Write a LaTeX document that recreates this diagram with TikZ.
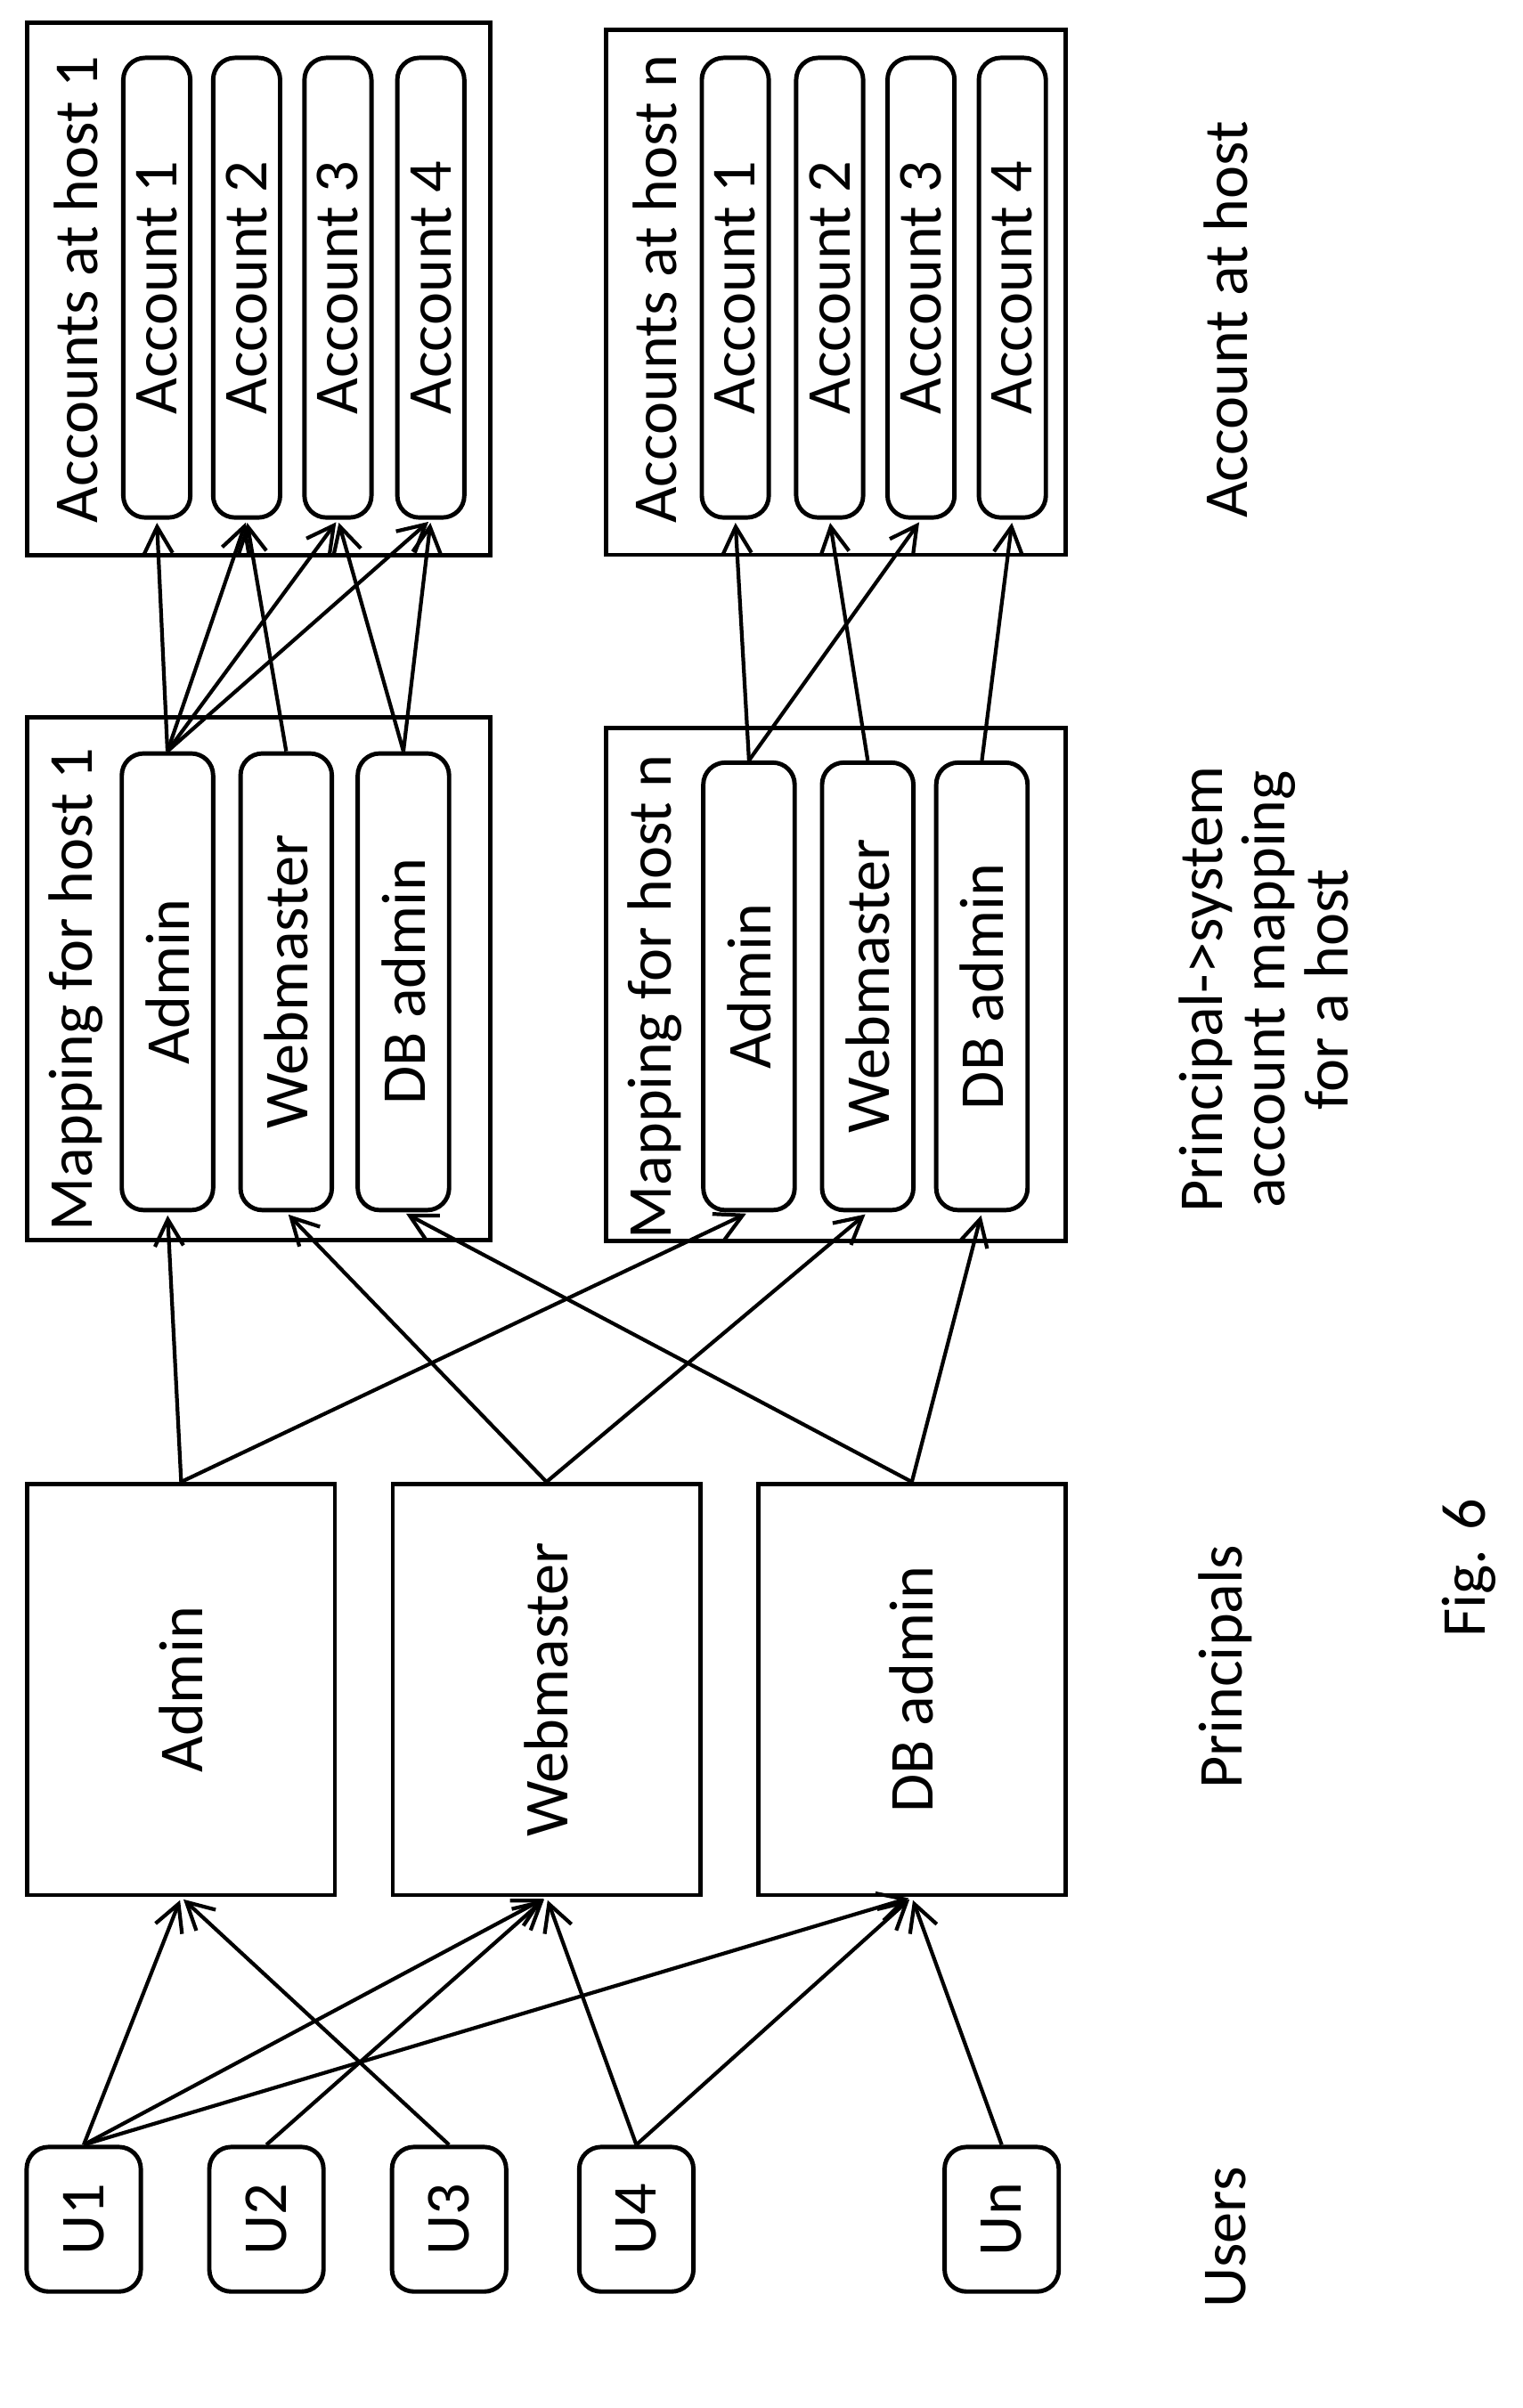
\documentclass[tikz,border=0pt]{standalone}
\usepackage{fontspec}
\setmainfont{Carlito}
\usetikzlibrary{arrows.meta}

\newcommand{\px}{0.0171cm}
\newcommand{\vt}[1]{\rotatebox{90}{#1}}

\tikzset{
	box/.style={draw, line width=1.4pt, fill=white, inner sep=0pt},
	rbox/.style={box, rounded corners=7pt},
	lbl/.style={font=\fontsize{20}{24}\selectfont},
	link/.style={line width=1.2pt, -{Straight Barb[length=3mm, width=3.2mm]}, shorten >=1pt}
}

\begin{document}
\begin{tikzpicture}[x=0.0171cm, y=-0.0171cm, lbl]
	\useasboundingbox (0,0) rectangle (1000,1582);

	% users
	\node[rbox, minimum width=75*\px, minimum height=95*\px] (u1) at (55,1458) {\vt{U1}};
	\node[rbox, minimum width=75*\px, minimum height=95*\px] (u2) at (175,1458) {\vt{U2}};
	\node[rbox, minimum width=75*\px, minimum height=95*\px] (u3) at (295,1458) {\vt{U3}};
	\node[rbox, minimum width=75*\px, minimum height=95*\px] (u4) at (418,1458) {\vt{U4}};
	\node[rbox, minimum width=75*\px, minimum height=95*\px] (un) at (658,1458) {\vt{Un}};

	% principals
	\node[box, minimum width=202*\px, minimum height=270*\px] (padmin) at (119,1110) {\vt{Admin}};
	\node[box, minimum width=202*\px, minimum height=270*\px] (pweb) at (359,1110) {\vt{Webmaster}};
	\node[box, minimum width=202*\px, minimum height=270*\px] (pdb) at (599,1110) {\vt{DB admin}};

	% mapping for host 1
	\node[box, minimum width=304*\px, minimum height=343*\px] (map1) at (170,643) {};
	\node at (50,650) {\vt{Mapping for host 1}};
	\node[rbox, minimum width=60*\px, minimum height=300*\px] (m1admin) at (110,645) {\vt{Admin}};
	\node[rbox, minimum width=60*\px, minimum height=300*\px] (m1web) at (188,645) {\vt{Webmaster}};
	\node[rbox, minimum width=60*\px, minimum height=300*\px] (m1db) at (265,645) {\vt{DB admin}};

	% mapping for host n
	\node[box, minimum width=302*\px, minimum height=337*\px] (mapn) at (549,647) {};
	\node at (430,655) {\vt{Mapping for host n}};
	\node[rbox, minimum width=60*\px, minimum height=294*\px] (mnadmin) at (492,648) {\vt{Admin}};
	\node[rbox, minimum width=60*\px, minimum height=294*\px] (mnweb) at (570,648) {\vt{Webmaster}};
	\node[rbox, minimum width=60*\px, minimum height=294*\px] (mndb) at (645,648) {\vt{DB admin}};

	% accounts at host 1
	\node[box, minimum width=304*\px, minimum height=350*\px] (acc1) at (170,190) {};
	\node at (50,190) {\vt{Accounts at host 1}};
	\node[rbox, minimum width=44*\px, minimum height=302*\px] (a11) at (103,189) {\vt{Account 1}};
	\node[rbox, minimum width=44*\px, minimum height=302*\px] (a12) at (162,189) {\vt{Account 2}};
	\node[rbox, minimum width=44*\px, minimum height=302*\px] (a13) at (222,189) {\vt{Account 3}};
	\node[rbox, minimum width=44*\px, minimum height=302*\px] (a14) at (283,189) {\vt{Account 4}};

	% accounts at host n
	\node[box, minimum width=302*\px, minimum height=345*\px] (accn) at (549,192) {};
	\node at (430,190) {\vt{Accounts at host n}};
	\node[rbox, minimum width=44*\px, minimum height=302*\px] (an1) at (483,189) {\vt{Account 1}};
	\node[rbox, minimum width=44*\px, minimum height=302*\px] (an2) at (545,189) {\vt{Account 2}};
	\node[rbox, minimum width=44*\px, minimum height=302*\px] (an3) at (605,189) {\vt{Account 3}};
	\node[rbox, minimum width=44*\px, minimum height=302*\px] (an4) at (665,189) {\vt{Account 4}};

	% users -> principals
	\draw[link] (u1.north) -- (padmin.south);
	\draw[link] (u1.north) -- (pweb.south);
	\draw[link] (u1.north) -- (pdb.south);
	\draw[link] (u2.north) -- (pweb.south);
	\draw[link] (u3.north) -- (padmin.south);
	\draw[link] (u4.north) -- (pweb.south);
	\draw[link] (u4.north) -- (pdb.south);
	\draw[link] (un.north) -- (pdb.south);

	% principals -> mappings
	\draw[link] (padmin.north) -- (m1admin.south);
	\draw[link] (padmin.north) -- (mnadmin.south);
	\draw[link] (pweb.north) -- (m1web.south);
	\draw[link] (pweb.north) -- (mnweb.south);
	\draw[link] (pdb.north) -- (m1db.south);
	\draw[link] (pdb.north) -- (mndb.south);

	% mappings -> accounts
	\foreach \a in {a11,a12,a13,a14}
		\draw[link] (m1admin.north) -- (\a.south);
	\draw[link] (m1web.north) -- (a12.south);
	\draw[link] (m1db.north) -- (a13.south);
	\draw[link] (m1db.north) -- (a14.south);
	\draw[link] (mnadmin.north) -- (an1.south);
	\draw[link] (mnadmin.north) -- (an3.south);
	\draw[link] (mnweb.north) -- (an2.south);
	\draw[link] (mndb.north) -- (an4.south);

	% captions
	\node (users) at (805,1470) {\vt{Users}};
	\node (princ) at (805,1095) {\vt{Principals}};
	\node[align=center] (maplbl) at (830,650) {\vt{\shortstack{Principal->system\\account mapping\\for a host}}};
	\node (acclbl) at (805,210) {\vt{Account at host}};
	\node (fig) at (965,1030) {\vt{Fig. 6}};
\end{tikzpicture}
\end{document}
